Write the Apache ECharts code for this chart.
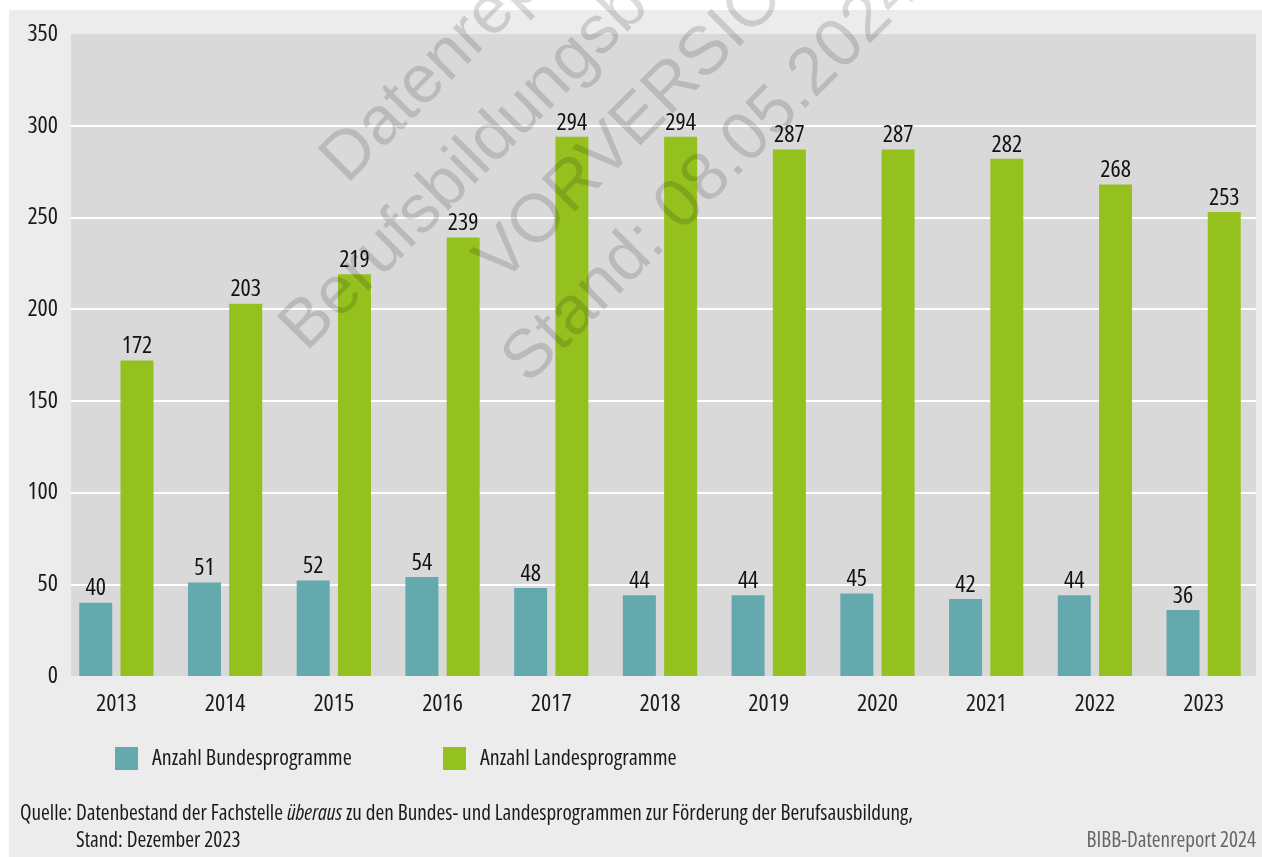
<!DOCTYPE html>
<html>
<head>
<meta charset="utf-8">
<script src="https://cdn.jsdelivr.net/npm/echarts@6/dist/echarts.min.js"></script>
<style>
  html, body { margin: 0; padding: 0; background: #fff; }
  #wrap { position: relative; width: 1262px; height: 857px; }
  #bg { position: absolute; left: 9px; top: 10px; right: 0; bottom: 0; background: #ececec; }
  #chart { position: absolute; left: 0; top: 0; width: 1262px; height: 857px; }
</style>
</head>
<body>
<div id="wrap">
  <div id="bg"></div>
  <div id="chart"></div>
</div>
<script>
// Daten
var years = ["2013", "2014", "2015", "2016", "2017", "2018", "2019", "2020", "2021", "2022", "2023"];
var bundesprogramme = [40, 51, 52, 54, 48, 44, 44, 45, 42, 44, 36];
var landesprogramme = [172, 203, 219, 239, 294, 294, 287, 287, 282, 268, 253];
var seriesNames = ["Anzahl Bundesprogramme", "Anzahl Landesprogramme"];
var watermarkLines = ["Datenreport 2024", "Berufsbildungsbericht 2024", "VORVERSION", "Stand: 08.05.2024"];

// schmale Schrift: Open Sans in der Condensed-Breite (landet im canvas-font-String)
var FONT = "'Open Sans', 'Roboto Condensed', sans-serif";
var NARROW = "condensed";
var TEAL = "#64a9ae";
var GREEN = "#95c11f";
var INK = "#1a1a1a";

var myChart = echarts.init(document.getElementById("chart"), null, { renderer: "canvas" });

var barLabel = {
  show: true,
  position: "top",
  distance: 2,
  color: "#111",
  fontSize: 24,
  fontWeight: NARROW,
  fontFamily: FONT,
};

var legendBase = {
  icon: "rect",
  itemWidth: 23,
  itemHeight: 23,
  itemGap: 12,
  padding: 0,
  top: 747,
  textStyle: { fontSize: 22, color: INK, fontWeight: NARROW, fontFamily: FONT, padding: [2, 0, 0, 9] },
};

var footStyle = { fontSize: 21.2, fontWeight: NARROW, fontFamily: FONT, fill: INK };

var option = {
  backgroundColor: "transparent",
  animation: false,
  textStyle: { fontFamily: FONT },
  grid: [
    // Hintergrund + Gitterlinien
    { left: 71, right: 6, top: 34, bottom: 181, show: true, backgroundColor: "#d9d9d9", borderWidth: 0 },
    // Balken
    { left: 62, right: 4, top: 34, bottom: 181 },
  ],
  xAxis: [
    { type: "value", gridIndex: 0, show: false, min: 0, max: 1 },
    {
      type: "category",
      gridIndex: 1,
      data: years,
      axisLine: { show: false },
      axisTick: { show: false },
      axisLabel: { margin: 16, fontSize: 24, color: INK, fontWeight: NARROW, fontFamily: FONT },
    },
  ],
  yAxis: [
    {
      type: "value",
      gridIndex: 0,
      min: 0,
      max: 350,
      interval: 50,
      axisLine: { show: false },
      axisTick: { show: false },
      axisLabel: { margin: 13, fontSize: 24, color: INK, fontWeight: NARROW, fontFamily: FONT },
      splitLine: { show: true, showMinLine: false, showMaxLine: false, lineStyle: { color: "#ffffff", width: 2 } },
    },
    { type: "value", gridIndex: 1, min: 0, max: 350, show: false, splitLine: { show: false } },
  ],
  legend: [
    Object.assign({}, legendBase, { data: [seriesNames[0]], left: 115 }),
    Object.assign({}, legendBase, { data: [seriesNames[1]], left: 443 }),
  ],
  series: [
    {
      name: seriesNames[0],
      type: "bar",
      xAxisIndex: 1,
      yAxisIndex: 1,
      data: bundesprogramme,
      barWidth: 33,
      barGap: "25%",
      itemStyle: { color: TEAL },
      label: barLabel,
    },
    {
      name: seriesNames[1],
      type: "bar",
      xAxisIndex: 1,
      yAxisIndex: 1,
      data: landesprogramme,
      barWidth: 33,
      barGap: "25%",
      itemStyle: { color: GREEN },
      label: barLabel,
    },
  ],
  graphic: [
    {
      type: "text",
      left: 20,
      top: 803,
      style: {
        text: "{n|Quelle: Datenbestand der Fachstelle }{i|überaus}{n| zu den Bundes- und Landesprogrammen zur Förderung der Berufsausbildung,}",
        rich: {
          n: footStyle,
          i: Object.assign({}, footStyle, { fontStyle: "italic" }),
        },
      },
    },
    {
      type: "text",
      left: 76,
      top: 830,
      style: Object.assign({ text: "Stand: Dezember 2023" }, footStyle),
    },
    {
      type: "text",
      right: 6,
      top: 830,
      style: Object.assign({ text: "BIBB-Datenreport 2024" }, footStyle, { fill: "#666666" }),
    },
    // Wasserzeichen
    {
      type: "text",
      x: 616,
      y: 80,
      rotation: Math.PI / 4,
      z: 100,
      silent: true,
      style: {
        text: watermarkLines.join("\n"),
        x: 0,
        y: 0,
        textAlign: "center",
        textVerticalAlign: "middle",
        fontSize: 68,
        fontFamily: "'Liberation Sans', Arial, sans-serif",
        lineHeight: 90,
        fill: "rgba(0,0,0,0.14)",
      },
    },
  ],
};

myChart.setOption(option);
</script>
</body>
</html>
